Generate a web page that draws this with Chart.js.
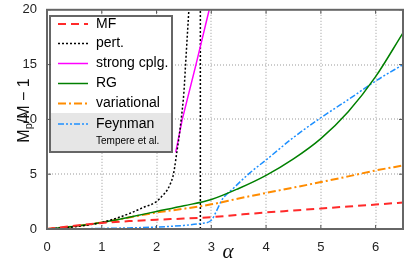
<!DOCTYPE html>
<html>
<head>
<meta charset="utf-8">
<script src="https://cdn.jsdelivr.net/npm/chart.js@4"></script>
<style>
    body { margin: 0; background: #fff; }
    #wrap { width: 415px; height: 261px; }
</style>
</head>
<body>
<div id="wrap"><canvas id="myChart" width="415" height="261"></canvas></div>
<script>
// values
var alphaGrid = [0, 0.5, 1, 1.5, 2, 2.5, 3, 3.5, 4, 4.5, 5, 5.5, 6, 6.5];
var mfVals = [0, 0.3, 0.55, 0.72, 0.85, 0.95, 1.08, 1.3, 1.51, 1.69, 1.87, 2.05, 2.23, 2.42];
var rgVals = [0, 0.25, 0.6, 1.08, 1.6, 2.12, 2.69, 3.7, 4.9, 6.4, 8.25, 10.7, 13.9, 17.9];
var varVals = [0, 0.25, 0.6, 1.05, 1.5, 1.85, 2.25, 2.78, 3.29, 3.78, 4.28, 4.8, 5.34, 5.79];

var alphaPert = [0, 0.5, 1, 1.5, 1.75, 2, 2.1, 2.2, 2.25, 2.3, 2.33, 2.37, 2.4, 2.45, 2.5, 2.53, 2.56, 2.59, 2.63];
var pertVals = [0, 0.2, 0.6, 1.4, 1.95, 2.5, 3.0, 3.6, 4.1, 4.8, 5.6, 7.0, 8.0, 10, 12.5, 15, 17.5, 20, 24];
var alphaPole = [2.8, 2.8];
var poleVals = [0, 21];

var alphaStrong = [2.35, 2.47, 2.72, 3.0];
var strongVals = [7, 10, 15, 20.8];

var alphaFeyn = [0, 0.5, 1, 1.5, 2, 2.5, 2.8, 3.0, 3.1, 3.2, 3.4, 3.7, 4, 4.5, 5, 5.5, 6, 6.5];
var feynVals = [0, 0.02, 0.05, 0.1, 0.18, 0.33, 0.5, 0.8, 1.7, 2.7, 3.7, 5.1, 6.3, 8.35, 10.15, 11.8, 13.5, 15.0];

var xTicks = [0, 1, 2, 3, 4, 5, 6];
var yTicks = [0, 5, 10, 15, 20];

function punti(xs, ys) {
    var out = [];
    for (var i = 0; i < xs.length; i++) {
        out.push({ x: xs[i], y: ys[i] });
    }
    return out;
}

Chart.defaults.font.family = '"Liberation Sans", Arial, sans-serif';
Chart.defaults.color = '#222';

// legenda disegnata a mano (riquadro grigio per Feynman + sottotitolo)
var legendaPlugin = {
    id: 'legenda',
    afterDatasetsDraw: function (chart) {
        var ctx = chart.ctx;
        var x0 = 50, y0 = 16, w = 122, h = 136;
        ctx.save();
        ctx.fillStyle = '#fff';
        ctx.fillRect(x0, y0, w, h);
        ctx.fillStyle = '#e6e6e6';
        ctx.fillRect(x0, 113, w, y0 + h - 113);
        ctx.strokeStyle = '#666';
        ctx.lineWidth = 2;
        ctx.strokeRect(x0, y0, w, h);

        var righe = [24, 43.5, 63.5, 83.5, 103.5, 124];
        var n = 0;
        chart.data.datasets.forEach(function (ds) {
            if (!ds.label) return;
            var y = righe[n];
            ctx.strokeStyle = ds.borderColor;
            ctx.lineWidth = ds.borderWidth;
            ctx.setLineDash(ds.borderDash || []);
            ctx.beginPath();
            ctx.moveTo(58, y);
            ctx.lineTo(88, y);
            ctx.stroke();
            ctx.setLineDash([]);
            ctx.fillStyle = '#000';
            ctx.font = '14px "Liberation Sans", Arial, sans-serif';
            ctx.textBaseline = 'middle';
            ctx.fillText(ds.label, 96, y);
            n++;
        });
        ctx.font = '10px "Liberation Sans", Arial, sans-serif';
        ctx.fillText('Tempere et al.', 96, 141);
        ctx.restore();
    }
};

// griglia a puntini disegnata prima delle curve
var grigliaPlugin = {
    id: 'griglia',
    beforeDatasetsDraw: function (chart) {
        var ctx = chart.ctx;
        var a = chart.chartArea;
        var xs = chart.scales.x, ys = chart.scales.y;
        ctx.save();
        ctx.fillStyle = '#999';
        for (var i = 1; i < xTicks.length; i++) {
            var px = Math.round(xs.getPixelForValue(xTicks[i])) - 0.5;
            for (var y = a.top + 2; y < a.bottom; y += 3) ctx.fillRect(px, y, 1, 1);
        }
        for (var j = 1; j < yTicks.length - 1; j++) {
            var py = Math.round(ys.getPixelForValue(yTicks[j])) - 0.5;
            for (var x = a.left + 2; x < a.right; x += 3) ctx.fillRect(x, py, 1, 1);
        }
        ctx.restore();
    }
};

// cornice, tacche interne e titoli degli assi
var cornicePlugin = {
    id: 'cornice',
    afterDraw: function (chart) {
        var ctx = chart.ctx;
        var a = chart.chartArea;
        var xs = chart.scales.x, ys = chart.scales.y;
        ctx.save();
        ctx.strokeStyle = '#555';
        ctx.lineWidth = 1;
        ctx.beginPath();
        for (var i = 0; i < xTicks.length; i++) {
            var px = xs.getPixelForValue(xTicks[i]);
            ctx.moveTo(px, a.bottom); ctx.lineTo(px, a.bottom - 4);
            ctx.moveTo(px, a.top); ctx.lineTo(px, a.top + 4);
        }
        for (var j = 0; j < yTicks.length; j++) {
            var py = ys.getPixelForValue(yTicks[j]);
            ctx.moveTo(a.left, py); ctx.lineTo(a.left + 4, py);
            ctx.moveTo(a.right, py); ctx.lineTo(a.right - 4, py);
        }
        ctx.stroke();
        ctx.lineWidth = 2;
        ctx.strokeStyle = '#666';
        ctx.strokeRect(a.left, a.top, a.right - a.left, a.bottom - a.top);

        // titolo asse x
        ctx.fillStyle = '#111';
        ctx.font = 'italic 21px "Liberation Serif", "DejaVu Serif", serif';
        ctx.textAlign = 'center';
        ctx.textBaseline = 'alphabetic';
        ctx.fillText('\u03B1', (a.left + a.right) / 2 + 3, 258);

        // titolo asse y con pedice
        var big = '16px "Liberation Sans", Arial, sans-serif';
        var small = '11px "Liberation Sans", Arial, sans-serif';
        ctx.translate(28.5, 110.5);
        ctx.rotate(-Math.PI / 2);
        ctx.textAlign = 'left';
        ctx.font = big;
        var w1 = ctx.measureText('M').width;
        var w3 = ctx.measureText('/M \u2212 1').width;
        ctx.font = small;
        var w2 = ctx.measureText('p').width;
        var x = -(w1 + w2 + w3) / 2;
        ctx.font = big;
        ctx.fillText('M', x, 0);
        ctx.font = small;
        ctx.fillText('p', x + w1, 3);
        ctx.font = big;
        ctx.fillText('/M \u2212 1', x + w1 + w2, 0);
        ctx.restore();
    }
};

var ctx = document.getElementById('myChart').getContext('2d');
var myChart = new Chart(ctx, {
    type: 'line',
    data: {
        datasets: [{
            label: 'MF',
            data: punti(alphaGrid, mfVals),
            borderColor: '#ff2a2a',
            borderWidth: 2,
            borderDash: [8, 5],
            cubicInterpolationMode: 'monotone'
        }, {
            label: 'pert.',
            data: punti(alphaPert, pertVals),
            borderColor: '#000',
            borderWidth: 1.5,
            borderDash: [2, 2],
            cubicInterpolationMode: 'monotone'
        }, {
            label: 'strong cplg.',
            data: punti(alphaStrong, strongVals),
            borderColor: '#ff00ff',
            borderWidth: 1.5,
            tension: 0
        }, {
            label: 'RG',
            data: punti(alphaGrid, rgVals),
            borderColor: '#008000',
            borderWidth: 1.5,
            cubicInterpolationMode: 'monotone'
        }, {
            label: 'variational',
            data: punti(alphaGrid, varVals),
            borderColor: '#ff8c00',
            borderWidth: 2,
            borderDash: [8, 3, 2, 3],
            cubicInterpolationMode: 'monotone'
        }, {
            label: 'Feynman',
            data: punti(alphaFeyn, feynVals),
            borderColor: '#1e90ff',
            borderWidth: 1.5,
            borderDash: [6, 2, 2, 2, 2, 2],
            cubicInterpolationMode: 'monotone'
        }, {
            label: '',
            data: punti(alphaPole, poleVals),
            borderColor: '#000',
            borderWidth: 1.5,
            borderDash: [2, 2],
            tension: 0
        }]
    },
    options: {
        responsive: false,
        animation: false,
        devicePixelRatio: 1,
        layout: { padding: { top: 8, right: 12, left: 0, bottom: 0 } },
        elements: { point: { radius: 0 } },
        plugins: {
            legend: { display: false },
            tooltip: { enabled: false }
        },
        scales: {
            x: {
                type: 'linear',
                min: 0,
                max: 6.5,
                afterBuildTicks: function (s) {
                    s.ticks = xTicks.map(function (v) { return { value: v }; });
                },
                afterFit: function (s) { s.height = 32; },
                grid: { display: false },
                border: { display: false },
                ticks: { font: { size: 13 }, padding: 3, color: '#222' }
            },
            y: {
                type: 'linear',
                min: 0,
                max: 20,
                afterBuildTicks: function (s) {
                    s.ticks = yTicks.map(function (v) { return { value: v }; });
                },
                afterFit: function (s) { s.width = 47; },
                grid: { display: false },
                border: { display: false },
                ticks: { font: { size: 13 }, padding: 2, color: '#222' }
            }
        }
    },
    plugins: [grigliaPlugin, legendaPlugin, cornicePlugin]
});
</script>
</body>
</html>
